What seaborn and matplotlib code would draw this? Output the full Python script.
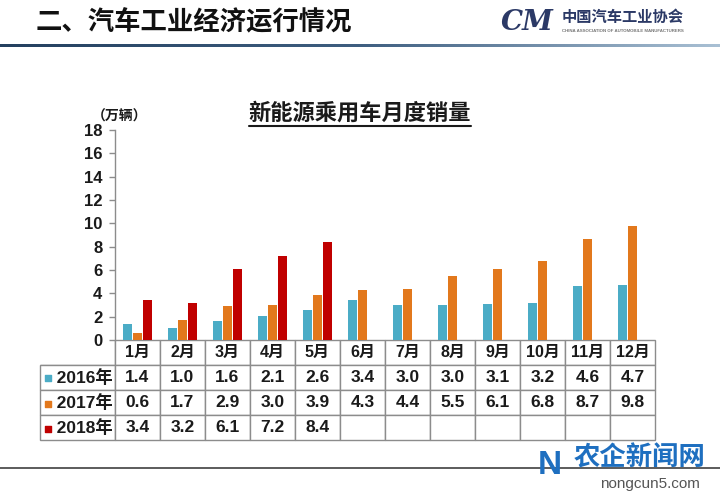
import numpy as np
import pandas as pd
import matplotlib
matplotlib.use("Agg")
import matplotlib.pyplot as plt
from matplotlib.lines import Line2D
from matplotlib.colors import LinearSegmentedColormap
import seaborn as sns

# ---------- data ----------
months = ["1月", "2月", "3月", "4月", "5月", "6月", "7月", "8月", "9月", "10月", "11月", "12月"]
years = ["2016年", "2017年", "2018年"]
sales_2016 = [1.4, 1.0, 1.6, 2.1, 2.6, 3.4, 3.0, 3.0, 3.1, 3.2, 4.6, 4.7]
sales_2017 = [0.6, 1.7, 2.9, 3.0, 3.9, 4.3, 4.4, 5.5, 6.1, 6.8, 8.7, 9.8]
sales_2018 = [3.4, 3.2, 6.1, 7.2, 8.4, None, None, None, None, None, None, None]
yticks = [0, 2, 4, 6, 8, 10, 12, 14, 16, 18]
colors = ["#4BACC6", "#E2781C", "#C00000"]

series = {"2016年": sales_2016, "2017年": sales_2017, "2018年": sales_2018}
rows = []
for yr, vals in series.items():
    for m, v in zip(months, vals):
        rows.append({"month": m, "year": yr, "value": v})
df = pd.DataFrame(rows)
df_bars = df.dropna()

# ---------- style ----------
sns.set_style("white")
plt.rcParams["font.family"] = ["Liberation Sans", "Noto Sans CJK SC", "DejaVu Sans"]
plt.rcParams["font.weight"] = "bold"

W, H = 720, 498
fig = plt.figure(figsize=(7.2, 4.98), dpi=100)

def px(x, y):
    return x / W, 1 - y / H

# main plot area: x 115..655, y 130..340 (pixels)
ax = fig.add_axes([115 / W, 1 - 340 / H, 540 / W, 210 / H])
sns.barplot(data=df_bars, x="month", y="value", hue="year", order=months,
            hue_order=years, palette=colors, width=0.66, gap=0.05,
            errorbar=None, legend=False, ax=ax, saturation=1, linewidth=0)

ax.set_xlim(-0.5, 11.5)
ax.set_ylim(0, 18)
ax.set_yticks(yticks)
ax.set_yticklabels([str(t) for t in yticks], fontsize=12, fontweight="bold", color="#1a1a1a")
ax.set_xticks([])
ax.set_xlabel("")
ax.set_ylabel("")
for s in ["top", "right", "bottom"]:
    ax.spines[s].set_visible(False)
ax.spines["left"].set_color("#8c8c8c")
ax.spines["left"].set_linewidth(1)
ax.tick_params(axis="y", left=True, length=4, width=1, color="#8c8c8c", pad=5)

# ---------- data table ----------
cell_text = [[""] + months]
for yr, vals in series.items():
    cell_text.append(["   " + yr] + ["" if v is None else f"{v:.1f}" for v in vals])

tbl = ax.table(cellText=cell_text, cellLoc="center",
               colWidths=[75] + [45] * 12,
               bbox=[-75 / 540, -100 / 210, 615 / 540, 100 / 210])
tbl.auto_set_font_size(False)
for (r, c), cell in tbl.get_celld().items():
    cell.set_edgecolor("#8c8c8c")
    cell.set_linewidth(1)
    txt = cell.get_text()
    txt.set_fontweight("bold")
    txt.set_color("#1a1a1a")
    if r == 0:
        txt.set_fontsize(11.5)
    else:
        txt.set_fontsize(12.5)
    if r == 0 and c == 0:
        cell.visible_edges = "BR"

# legend keys in row labels
row_y = [(340 - 378) / 210, (340 - 404) / 210, (340 - 429) / 210]
for yy, col in zip(row_y, colors):
    ax.scatter([(48 - 115) / 540], [yy], marker="s", s=22, color=col,
               transform=ax.transAxes, clip_on=False, zorder=5)

# ---------- titles ----------
fig.text(*px(120, 117), "（万辆）", fontsize=10, fontweight="bold",
         ha="center", va="center", color="#1a1a1a")
fig.text(*px(360, 114), "新能源乘用车月度销量", fontsize=16, fontweight="bold",
         ha="center", va="center", color="#1a1a1a")
x0, y0 = px(249, 126)
x1, _ = px(471, 126)
fig.add_artist(Line2D([x0, x1], [y0, y0], color="#1a1a1a", lw=1.5))

# ---------- page header ----------
fig.text(*px(36, 23), "二、汽车工业经济运行情况", fontsize=19, fontweight="bold",
         ha="left", va="center", color="#111111")
bar_ax = fig.add_axes([0, 1 - 47 / H, 1, 3 / H])
cmap = LinearSegmentedColormap.from_list("hdr", ["#24405F", "#3E5E80", "#A9C0D4"])
bar_ax.imshow(np.linspace(0, 1, 256)[None, :], aspect="auto", cmap=cmap)
bar_ax.axis("off")

fig.text(*px(527, 22), "CM", fontsize=20, fontweight="bold", style="italic",
         family=["DejaVu Serif"], ha="center", va="center", color="#2B3966")
fig.text(*px(623, 18), "中国汽车工业协会", fontsize=11, fontweight="bold",
         ha="center", va="center", color="#2B3966")
fig.text(*px(623, 31), "CHINA ASSOCIATION OF AUTOMOBILE MANUFACTURERS", fontsize=3.2,
         ha="center", va="center", color="#777777")

# ---------- footer ----------
fx0, fy = px(0, 468)
fx1, _ = px(720, 468)
fig.add_artist(Line2D([fx0, fx1], [fy, fy], color="#404040", lw=1.2))
fig.text(*px(550, 465), "N", fontsize=24, fontweight="bold", ha="center", va="center",
         color="#1E6FC0")
fig.text(*px(640, 458), "农企新闻网", fontsize=19, fontweight="bold", ha="center",
         va="center", color="#1E6FC0")
fig.text(*px(650, 484), "nongcun5.com", fontsize=11, fontweight="normal", ha="center",
         va="center", color="#555555")

fig.savefig("out.png", dpi=100)
